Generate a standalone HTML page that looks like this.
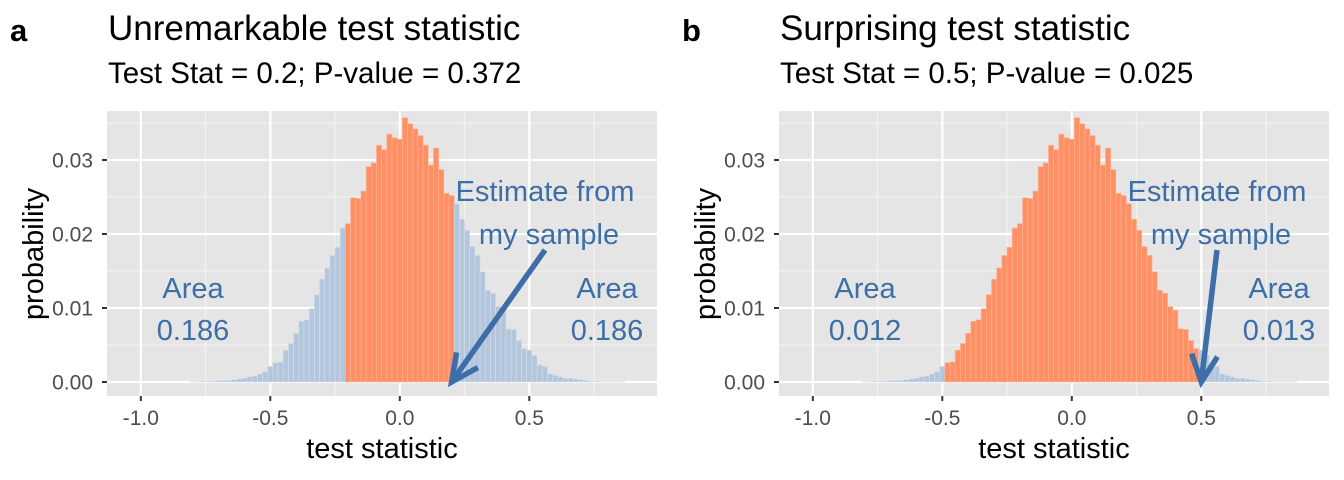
<!DOCTYPE html>
<html><head><meta charset="utf-8">
<style>
body{margin:0;background:#fff;}
svg{display:block;font-family:"Liberation Sans",sans-serif;}
</style></head>
<body>
<svg id="chart" width="1344" height="480"></svg>
<script>
const binCenters = [];
for (let i = -40; i <= 43; i++) binCenters.push(Math.round(i*2)/100);
const binValues = [
0.00005,0.00005,0.0001,0.0001,0.0001,0.00015,0.0002,0.0002,0.0003,0.0004,0.0005,0.0007,0.0008,0.0011,0.0014,0.0021,0.0026,0.0027,0.0043,0.0052,0.0066,
0.0082,0.0084,0.0099,0.0118,0.0139,0.0154,0.0171,0.0182,0.0208,0.0214,
0.0249,0.0248,0.0258,0.0291,0.0296,0.0320,0.0314,0.0335,0.0330,0.0328,
0.0357,
0.0349,0.0342,0.0333,0.0320,0.0293,0.0316,0.0287,0.0255,0.0252,0.0241,
0.0220,0.0205,0.0183,0.0171,0.0149,0.0124,0.0120,0.0102,0.0097,0.0072,
0.0071,0.0056,0.0045,0.0043,0.0036,0.0023,0.0021,0.0011,0.0009,0.0007,
0.0005,0.0005,0.0004,0.0003,0.0002,0.0001,0.0001,0.00005,0.00005,0.00005,0.00005,0.00005,0.00005
];
const xTicks = [-1.0,-0.5,0.0,0.5];
const xTickLabels = ["-1.0","-0.5","0.0","0.5"];
const yTicks = [0,0.01,0.02,0.03];
const yTickLabels = ["0.00","0.01","0.02","0.03"];
const panelLetters = ["a","b"];
const panelTitles = ["Unremarkable test statistic","Surprising test statistic"];
const panelSubtitles = ["Test Stat = 0.2; P-value = 0.372","Test Stat = 0.5; P-value = 0.025"];
const orangeLo = [-0.20,-0.48];
const orangeHi = [0.20,0.48];
const testStats = [0.2,0.5];
const leftAreas = ["0.186","0.012"];
const rightAreas = ["0.186","0.013"];

const NS="http://www.w3.org/2000/svg";
const svg=document.getElementById('chart');
function mk(tag,attrs,parent,text){const e=document.createElementNS(NS,tag);for(const k in attrs)e.setAttribute(k,attrs[k]);if(text!==undefined)e.textContent=text;(parent||svg).appendChild(e);return e;}

[0,1].forEach(p=>{
  const off=p*672;
  const L=107+off,R=657+off,T=111,B=396;
  const xs=v=>399.8+off+259*v;
  const ys=v=>382-7400*v;
  const g=mk('g',{});
  
  
  let e=mk('text',{x:10+off,y:41,'font-size':31,'font-weight':'bold',fill:'#000'},g,panelLetters[p]);
  
  e=mk('text',{x:108+off,y:40,'font-size':35,fill:'#000'},g,panelTitles[p]);
  
  e=mk('text',{x:108+off,y:83,'font-size':29.5,fill:'#000'},g,panelSubtitles[p]);
  
  e=mk('rect',{x:L,y:T,width:R-L,height:B-T,fill:'#e5e5e5'},g);
  
  [-0.75,-0.25,0.25,0.75].forEach(v=>{const l=mk('line',{x1:xs(v),x2:xs(v),y1:T,y2:B,stroke:'#f2f2f2','stroke-width':1.2},g);});
  [0.005,0.015,0.025,0.035].forEach(v=>{const l=mk('line',{x1:L,x2:R,y1:ys(v),y2:ys(v),stroke:'#f2f2f2','stroke-width':1.2},g);});
  xTicks.forEach((v,i)=>{
    const l=mk('line',{x1:xs(v),x2:xs(v),y1:T,y2:B,stroke:'#fff','stroke-width':2.2},g);
    
    const t=mk('line',{x1:xs(v),x2:xs(v),y1:B,y2:B+5,stroke:'#333','stroke-width':2},g);
    
    const tx=mk('text',{x:xs(v),y:425,'font-size':21,fill:'#4d4d4d','text-anchor':'middle'},g,xTickLabels[i]);
    
  });
  yTicks.forEach((v,i)=>{
    const l=mk('line',{x1:L,x2:R,y1:ys(v),y2:ys(v),stroke:'#fff','stroke-width':2.2},g);
    
    const t=mk('line',{x1:L-5,x2:L,y1:ys(v),y2:ys(v),stroke:'#333','stroke-width':2},g);
    
    const tx=mk('text',{x:L-14,y:ys(v)+7.5,'font-size':21,fill:'#4d4d4d','text-anchor':'end'},g,yTickLabels[i]);
    
  });
  const bw=5.18;
  binCenters.forEach((c,i)=>{
    const v=binValues[i]; if(v===undefined)return;
    const inside=c>=orangeLo[p]-0.001&&c<=orangeHi[p]+0.001;
    const b=mk('rect',{x:xs(c)-bw/2,y:ys(v),width:bw,height:ys(0)-ys(v),fill:inside?'#ff9066':'#b3c6dc',stroke:inside?'#ffb395':'#d3deea','stroke-width':0.6},g);
    
    
  });
  const col='#3d6ea8';
  e=mk('text',{x:545+off,y:201,'font-size':29,fill:col,'text-anchor':'middle'},g,'Estimate from');
  
  e=mk('text',{x:549+off,y:244,'font-size':29,fill:col,'text-anchor':'middle'},g,'my sample');
  
  [[L+86,leftAreas[p]],[R-50,rightAreas[p]]].forEach(([x,a],k)=>{
    let t=mk('text',{x:x,y:298,'font-size':29,fill:col,'text-anchor':'middle'},g,'Area');
    
    t=mk('text',{x:x,y:340,'font-size':29,fill:col,'text-anchor':'middle'},g,a);
    
  });
  const tx=xs(testStats[p]), ty=ys(0);
  const sx = 545+off, sy=250;
  const ang=Math.atan2(sy-ty,sx-tx);
  const hl=30, ha=0.45;
  const ar=mk('path',{d:`M${sx},${sy} L${tx},${ty} M${tx+hl*Math.cos(ang+ha)},${ty+hl*Math.sin(ang+ha)} L${tx},${ty} L${tx+hl*Math.cos(ang-ha)},${ty+hl*Math.sin(ang-ha)}`,stroke:col,'stroke-width':5.5,fill:'none','stroke-linejoin':'miter'},g);
  
  e=mk('text',{x:(L+R)/2,y:458,'font-size':29,fill:'#000','text-anchor':'middle'},g,'test statistic');
  
  e=mk('text',{x:0,y:0,'font-size':29,fill:'#000','text-anchor':'middle',transform:`translate(${43+off},254) rotate(-90)`},g,'probability');
  
});
</script>
</body></html>
